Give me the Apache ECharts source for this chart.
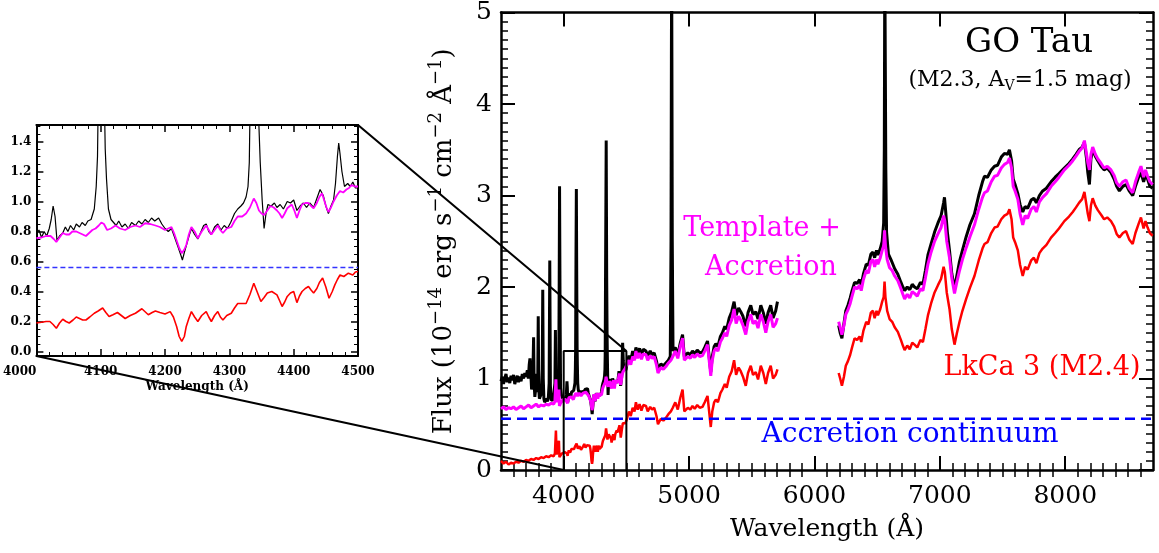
<!DOCTYPE html>
<html><head><meta charset="utf-8">
<script src="https://cdn.jsdelivr.net/npm/echarts@6/dist/echarts.min.js"></script>
<style>html,body{margin:0;padding:0;background:#fff}#c{width:1159px;height:553px}</style>
</head><body><div id="c"></div><script>
// ---------------- DATA ----------------
const xMajorTicks = [4000, 5000, 6000, 7000, 8000];
const insetYTicks = [0, 0.2, 0.4, 0.6, 0.8, 1.0, 1.2, 1.4];
const accretionLevel = 0.56;
const zoomWave = [4000, 4500];
const zoomBoxTop = 1.3;

// GO Tau observed spectrum (black)
const observedUV = [[3500,0.97],[3510,1.02],[3520,0.94],[3530,1.0],[3540,1.05],[3550,0.96],[3560,1.01],[3570,0.95],[3580,1.03],[3590,0.98],[3600,1.04],[3610,0.94],[3620,0.99],[3630,1.03],[3640,0.96],[3650,1.02],[3660,0.97],[3670,1.05],[3680,1.0],[3690,1.06],[3700,1.02],[3710,1.09],[3718,1.0],[3725,1.15],[3731,1.22],[3738,1.05],[3744,0.88],[3750,0.92],[3755,1.1],[3760,1.45],[3764,0.95],[3770,0.8],[3776,0.88],[3782,1.05],[3788,0.85],[3793,0.95],[3797,1.68],[3801,0.9],[3806,0.78],[3812,0.76],[3818,0.82],[3824,0.9],[3829,1.1],[3833,1.97],[3837,1.0],[3842,0.78],[3848,0.74],[3855,0.76],[3862,0.78],[3870,0.75],[3878,0.8],[3884,0.95],[3889,2.29],[3894,0.92],[3900,0.76],[3908,0.74],[3916,0.77],[3924,0.78],[3930,0.95],[3934,1.53],[3938,0.9],[3944,0.76],[3952,0.8],[3960,0.9],[3964,2.0],[3967,3.1],[3971,1.8],[3975,0.9],[3982,0.82],[3990,0.79],[3996,0.81]];
const observedZoom = [[4000,0.78],[4004,0.81],[4008,0.76],[4012,0.8],[4016,0.77],[4020,0.82],[4023,0.88],[4026,0.97],[4029,0.9],[4032,0.74],[4036,0.77],[4041,0.79],[4045,0.83],[4049,0.8],[4053,0.84],[4058,0.81],[4062,0.85],[4067,0.83],[4071,0.86],[4076,0.84],[4080,0.87],[4085,0.88],[4090,0.95],[4093,1.1],[4095,1.3],[4098,2.3],[4101,3.07],[4104,2.1],[4107,1.35],[4109,1.15],[4112,0.95],[4116,0.88],[4120,0.86],[4124,0.84],[4128,0.87],[4133,0.83],[4138,0.85],[4143,0.82],[4148,0.86],[4154,0.84],[4159,0.87],[4164,0.85],[4169,0.88],[4174,0.86],[4179,0.89],[4184,0.87],[4190,0.89],[4195,0.85],[4200,0.82],[4205,0.8],[4210,0.82],[4215,0.76],[4220,0.7],[4224,0.65],[4227,0.61],[4230,0.66],[4234,0.72],[4238,0.78],[4241,0.82],[4246,0.78],[4251,0.75],[4256,0.8],[4260,0.84],[4264,0.85],[4268,0.8],[4272,0.78],[4277,0.83],[4282,0.85],[4287,0.81],[4292,0.84],[4297,0.82],[4302,0.86],[4308,0.92],[4313,0.95],[4318,0.97],[4322,0.99],[4326,1.03],[4329,1.1],[4331,1.26],[4334,2.2],[4339,3.6],[4343,2.1],[4346,1.5],[4348,1.26],[4351,1.01],[4354,0.82],[4357,0.92],[4360,0.98],[4365,0.97],[4370,0.99],[4374,0.96],[4379,0.98],[4384,0.95],[4390,1.0],[4395,0.99],[4400,1.01],[4405,0.94],[4410,0.97],[4415,0.99],[4420,0.96],[4425,0.99],[4431,0.96],[4436,1.02],[4441,1.08],[4446,1.04],[4450,0.97],[4454,0.92],[4458,0.97],[4462,1.01],[4465,1.12],[4468,1.3],[4470,1.39],[4472,1.32],[4475,1.2],[4479,1.1],[4484,1.12],[4488,1.1],[4492,1.13],[4496,1.09],[4500,1.09]];
const observedGreen = [[4505,1.16],[4520,1.25],[4535,1.19],[4550,1.3],[4565,1.24],[4576,1.34],[4590,1.27],[4605,1.33],[4620,1.25],[4635,1.32],[4656,1.3],[4670,1.25],[4690,1.3],[4705,1.26],[4722,1.28],[4740,1.19],[4752,1.1],[4762,1.08],[4775,1.16],[4795,1.14],[4815,1.17],[4835,1.2],[4850,1.24],[4856,2.5],[4859,4.5],[4861,5.6],[4863,4.5],[4866,2.5],[4872,1.3],[4890,1.34],[4910,1.26],[4930,1.39],[4948,1.48],[4962,1.24],[4974,1.23],[4990,1.28],[5010,1.26],[5027,1.3],[5045,1.27],[5065,1.31],[5085,1.28],[5107,1.29],[5125,1.34],[5147,1.41],[5160,1.24],[5173,1.07],[5185,1.24],[5200,1.35],[5213,1.38],[5230,1.35],[5250,1.46],[5266,1.5],[5285,1.57],[5300,1.54],[5320,1.66],[5340,1.73],[5359,1.84],[5375,1.69],[5395,1.77],[5412,1.73],[5430,1.68],[5452,1.57],[5470,1.72],[5492,1.8],[5510,1.7],[5532,1.73],[5550,1.65],[5572,1.8],[5592,1.72],[5612,1.6],[5630,1.72],[5651,1.8],[5670,1.66],[5691,1.74],[5705,1.84]];
const observedRed = [[6193,1.58],[6205,1.5],[6219,1.44],[6235,1.6],[6250,1.74],[6267,1.8],[6285,1.88],[6300,1.96],[6320,2.05],[6340,2.04],[6360,2.08],[6373,2.02],[6390,2.14],[6413,2.25],[6430,2.24],[6450,2.36],[6466,2.38],[6480,2.32],[6495,2.4],[6506,2.35],[6525,2.42],[6540,2.5],[6552,2.7],[6557,3.5],[6561,5.6],[6565,5.6],[6569,3.3],[6575,2.6],[6590,2.36],[6610,2.3],[6640,2.2],[6665,2.14],[6690,2.05],[6705,2.0],[6719,1.96],[6740,2.0],[6760,1.97],[6780,2.03],[6798,2.0],[6820,1.98],[6845,2.05],[6865,2.03],[6885,2.18],[6905,2.35],[6930,2.47],[6958,2.6],[6985,2.7],[7010,2.78],[7030,2.92],[7037,2.98],[7045,2.85],[7060,2.6],[7077,2.4],[7095,2.15],[7117,1.98],[7135,2.12],[7157,2.28],[7180,2.4],[7210,2.55],[7240,2.68],[7276,2.8],[7310,3.0],[7340,3.15],[7356,3.21],[7380,3.2],[7410,3.28],[7436,3.32],[7460,3.33],[7490,3.42],[7515,3.46],[7540,3.45],[7555,3.5],[7572,3.38],[7585,3.18],[7600,3.12],[7622,3.02],[7640,2.9],[7661,2.82],[7680,2.88],[7700,2.86],[7728,2.95],[7750,2.97],[7770,2.92],[7794,3.0],[7820,3.05],[7850,3.08],[7887,3.15],[7920,3.2],[7950,3.24],[7993,3.3],[8030,3.35],[8060,3.4],[8086,3.45],[8110,3.5],[8135,3.53],[8153,3.58],[8170,3.4],[8180,3.25],[8193,3.12],[8205,3.4],[8219,3.5],[8240,3.43],[8260,3.38],[8286,3.32],[8310,3.28],[8335,3.3],[8365,3.25],[8390,3.18],[8410,3.1],[8432,3.05],[8460,3.1],[8485,3.12],[8510,3.05],[8538,3.0],[8560,3.1],[8585,3.2],[8604,3.25],[8625,3.15],[8640,3.22],[8657,3.18],[8675,3.1],[8697,3.08]];

// Template + Accretion (magenta)
const modelUV = [[3500,0.67],[3520,0.69],[3540,0.66],[3560,0.68],[3580,0.67],[3600,0.69],[3620,0.66],[3640,0.68],[3660,0.7],[3680,0.67],[3700,0.69],[3720,0.71],[3740,0.68],[3760,0.7],[3780,0.72],[3800,0.69],[3820,0.71],[3840,0.7],[3860,0.72],[3880,0.71],[3900,0.73],[3920,0.72],[3930,0.75],[3938,0.99],[3944,0.74],[3955,0.72],[3962,0.88],[3966,0.7],[3975,0.73],[3985,0.75],[3995,0.77]];
const modelZoom = [[4000,0.755],[4008,0.76],[4015,0.77],[4022,0.77],[4027,0.75],[4031,0.73],[4036,0.76],[4041,0.79],[4046,0.78],[4051,0.78],[4056,0.8],[4062,0.8],[4067,0.79],[4072,0.78],[4077,0.77],[4082,0.79],[4087,0.81],[4092,0.82],[4097,0.84],[4101,0.86],[4105,0.85],[4110,0.81],[4116,0.82],[4123,0.84],[4130,0.82],[4138,0.81],[4146,0.83],[4154,0.84],[4161,0.83],[4169,0.855],[4177,0.85],[4185,0.84],[4192,0.83],[4200,0.81],[4205,0.82],[4210,0.83],[4214,0.79],[4218,0.74],[4222,0.69],[4226,0.655],[4230,0.68],[4233,0.71],[4237,0.78],[4241,0.83],[4246,0.8],[4251,0.755],[4257,0.8],[4264,0.84],[4268,0.81],[4272,0.78],[4277,0.81],[4282,0.84],[4286,0.81],[4290,0.79],[4296,0.82],[4303,0.83],[4308,0.87],[4313,0.9],[4320,0.9],[4326,0.92],[4332,0.96],[4338,1.02],[4342,0.99],[4346,0.94],[4350,0.92],[4354,0.91],[4359,0.94],[4364,0.97],[4369,0.96],[4374,0.94],[4378,0.92],[4382,0.89],[4386,0.92],[4390,0.955],[4397,0.98],[4401,0.94],[4405,0.89],[4409,0.94],[4413,0.98],[4418,0.99],[4423,0.99],[4427,0.97],[4431,0.955],[4436,0.99],[4440,1.03],[4444,1.055],[4448,1.0],[4451,0.96],[4454,0.93],[4458,0.96],[4462,1.0],[4467,1.04],[4472,1.07],[4477,1.06],[4482,1.08],[4486,1.09],[4490,1.11],[4495,1.1],[4500,1.1]];
const modelGreen = [[4505,1.12],[4520,1.2],[4535,1.15],[4550,1.24],[4565,1.2],[4576,1.3],[4590,1.22],[4605,1.28],[4620,1.21],[4635,1.27],[4656,1.26],[4670,1.2],[4690,1.25],[4705,1.22],[4722,1.24],[4740,1.15],[4752,1.06],[4762,1.05],[4775,1.12],[4795,1.1],[4815,1.13],[4835,1.17],[4855,1.2],[4870,1.24],[4890,1.3],[4910,1.22],[4930,1.35],[4948,1.44],[4962,1.2],[4974,1.19],[4990,1.24],[5010,1.22],[5027,1.26],[5045,1.23],[5065,1.27],[5085,1.24],[5107,1.25],[5125,1.3],[5147,1.37],[5160,1.2],[5173,1.03],[5185,1.2],[5200,1.3],[5213,1.33],[5230,1.3],[5250,1.4],[5266,1.44],[5285,1.5],[5300,1.46],[5320,1.58],[5340,1.64],[5359,1.76],[5375,1.6],[5395,1.68],[5412,1.64],[5430,1.58],[5452,1.48],[5470,1.62],[5492,1.7],[5510,1.6],[5532,1.63],[5550,1.55],[5572,1.7],[5592,1.62],[5612,1.5],[5630,1.62],[5651,1.7],[5670,1.56],[5691,1.6],[5705,1.66]];
const modelRed = [[6193,1.62],[6205,1.56],[6219,1.48],[6235,1.58],[6250,1.7],[6267,1.75],[6285,1.82],[6300,1.9],[6320,2.0],[6340,1.98],[6360,2.02],[6373,1.96],[6390,2.08],[6413,2.18],[6430,2.15],[6450,2.28],[6466,2.3],[6480,2.22],[6495,2.3],[6506,2.25],[6525,2.32],[6540,2.4],[6552,2.45],[6559,2.62],[6566,2.45],[6580,2.3],[6599,2.21],[6620,2.18],[6640,2.12],[6665,2.07],[6690,1.98],[6705,1.92],[6719,1.87],[6740,1.92],[6760,1.88],[6780,1.95],[6798,1.93],[6820,1.9],[6845,1.98],[6865,1.96],[6885,2.1],[6905,2.25],[6930,2.38],[6958,2.5],[6985,2.58],[7010,2.65],[7030,2.78],[7040,2.72],[7055,2.5],[7077,2.32],[7095,2.1],[7117,1.93],[7135,2.05],[7157,2.18],[7180,2.3],[7210,2.43],[7240,2.55],[7276,2.68],[7310,2.85],[7340,2.98],[7356,3.03],[7380,3.05],[7410,3.15],[7436,3.21],[7460,3.22],[7490,3.3],[7515,3.34],[7540,3.36],[7555,3.41],[7572,3.3],[7585,3.1],[7600,3.05],[7622,2.96],[7640,2.8],[7661,2.68],[7680,2.78],[7700,2.75],[7728,2.85],[7750,2.88],[7770,2.82],[7794,2.93],[7820,2.98],[7850,3.02],[7887,3.1],[7920,3.15],[7950,3.2],[7993,3.28],[8030,3.33],[8060,3.38],[8086,3.43],[8110,3.48],[8135,3.52],[8153,3.6],[8170,3.45],[8180,3.36],[8193,3.28],[8205,3.45],[8219,3.53],[8240,3.45],[8260,3.4],[8286,3.35],[8310,3.3],[8335,3.32],[8365,3.28],[8390,3.22],[8410,3.14],[8432,3.1],[8460,3.15],[8485,3.17],[8510,3.08],[8538,3.03],[8560,3.15],[8585,3.25],[8604,3.32],[8625,3.2],[8640,3.28],[8657,3.21],[8675,3.15],[8697,3.12]];

// LkCa 3 template (red)
const templateUV = [[3500,0.1],[3520,0.07],[3540,0.09],[3560,0.06],[3580,0.08],[3600,0.07],[3620,0.09],[3640,0.08],[3660,0.1],[3680,0.09],[3700,0.11],[3720,0.1],[3740,0.12],[3760,0.11],[3780,0.13],[3800,0.12],[3820,0.14],[3840,0.13],[3860,0.15],[3880,0.14],[3900,0.16],[3920,0.15],[3930,0.18],[3938,0.43],[3944,0.17],[3955,0.16],[3962,0.32],[3966,0.14],[3975,0.16],[3985,0.18],[3995,0.19]];
const templateZoom = [[4000,0.19],[4008,0.195],[4015,0.2],[4021,0.2],[4026,0.18],[4031,0.155],[4036,0.19],[4041,0.215],[4046,0.2],[4051,0.19],[4057,0.21],[4062,0.23],[4067,0.22],[4072,0.21],[4077,0.21],[4083,0.23],[4090,0.255],[4096,0.27],[4103,0.29],[4108,0.26],[4113,0.233],[4119,0.245],[4126,0.26],[4132,0.24],[4138,0.22],[4146,0.24],[4154,0.255],[4159,0.27],[4164,0.285],[4169,0.265],[4174,0.245],[4180,0.26],[4185,0.27],[4192,0.26],[4200,0.25],[4208,0.266],[4213,0.23],[4218,0.167],[4222,0.1],[4226,0.067],[4230,0.1],[4233,0.167],[4237,0.22],[4241,0.266],[4246,0.23],[4251,0.2],[4257,0.24],[4264,0.266],[4268,0.23],[4272,0.2],[4277,0.24],[4282,0.266],[4286,0.23],[4290,0.21],[4296,0.24],[4303,0.255],[4308,0.29],[4313,0.32],[4320,0.32],[4326,0.32],[4332,0.38],[4338,0.455],[4343,0.4],[4349,0.333],[4354,0.36],[4359,0.39],[4366,0.4],[4374,0.378],[4378,0.34],[4382,0.3],[4386,0.33],[4390,0.367],[4395,0.39],[4400,0.4],[4405,0.326],[4409,0.37],[4413,0.4],[4418,0.42],[4423,0.433],[4427,0.41],[4431,0.39],[4436,0.42],[4440,0.46],[4445,0.49],[4450,0.43],[4455,0.355],[4460,0.4],[4464,0.444],[4468,0.48],[4472,0.51],[4478,0.5],[4485,0.522],[4492,0.51],[4496,0.53],[4500,0.533]];
const templateGreen = [[4505,0.56],[4520,0.64],[4535,0.59],[4550,0.68],[4565,0.64],[4576,0.74],[4590,0.66],[4605,0.72],[4620,0.65],[4635,0.71],[4656,0.7],[4670,0.64],[4690,0.69],[4705,0.66],[4722,0.68],[4740,0.59],[4752,0.5],[4762,0.49],[4775,0.56],[4795,0.54],[4815,0.57],[4835,0.61],[4855,0.64],[4870,0.68],[4890,0.74],[4910,0.66],[4930,0.79],[4948,0.88],[4962,0.64],[4974,0.63],[4990,0.68],[5010,0.66],[5027,0.7],[5045,0.67],[5065,0.71],[5085,0.68],[5107,0.69],[5125,0.74],[5147,0.81],[5160,0.64],[5173,0.47],[5185,0.64],[5200,0.74],[5213,0.77],[5230,0.74],[5250,0.84],[5266,0.88],[5285,0.94],[5300,0.9],[5320,1.02],[5340,1.08],[5359,1.2],[5375,1.04],[5395,1.12],[5412,1.08],[5430,1.02],[5452,0.92],[5470,1.06],[5492,1.14],[5510,1.04],[5532,1.07],[5550,0.99],[5572,1.14],[5592,1.06],[5612,0.94],[5630,1.06],[5651,1.14],[5670,1.0],[5691,1.04],[5705,1.1]];
const templateRed = [[6193,1.06],[6205,1.0],[6219,0.92],[6235,1.02],[6250,1.14],[6267,1.19],[6285,1.26],[6300,1.34],[6320,1.44],[6340,1.42],[6360,1.46],[6373,1.4],[6390,1.52],[6413,1.62],[6430,1.59],[6450,1.72],[6466,1.74],[6480,1.66],[6495,1.74],[6506,1.69],[6525,1.76],[6540,1.84],[6552,1.89],[6559,2.06],[6566,1.89],[6580,1.74],[6599,1.65],[6620,1.62],[6640,1.56],[6665,1.51],[6690,1.42],[6705,1.36],[6719,1.31],[6740,1.36],[6760,1.32],[6780,1.39],[6798,1.37],[6820,1.34],[6845,1.42],[6865,1.4],[6885,1.54],[6905,1.69],[6930,1.82],[6958,1.94],[6985,2.02],[7010,2.09],[7030,2.22],[7040,2.16],[7055,1.94],[7077,1.76],[7095,1.54],[7117,1.37],[7135,1.49],[7157,1.62],[7180,1.74],[7210,1.87],[7240,1.99],[7276,2.12],[7310,2.29],[7340,2.42],[7356,2.47],[7380,2.49],[7410,2.59],[7436,2.65],[7460,2.66],[7490,2.74],[7515,2.78],[7540,2.8],[7555,2.85],[7572,2.74],[7585,2.54],[7600,2.49],[7622,2.4],[7640,2.24],[7661,2.12],[7680,2.22],[7700,2.19],[7728,2.29],[7750,2.32],[7770,2.26],[7794,2.37],[7820,2.42],[7850,2.46],[7887,2.54],[7920,2.59],[7950,2.64],[7993,2.72],[8030,2.77],[8060,2.82],[8086,2.87],[8110,2.92],[8135,2.96],[8153,3.04],[8170,2.89],[8180,2.8],[8193,2.72],[8205,2.89],[8219,2.97],[8240,2.89],[8260,2.84],[8286,2.79],[8310,2.74],[8335,2.76],[8365,2.72],[8390,2.66],[8410,2.58],[8432,2.54],[8460,2.59],[8485,2.61],[8510,2.52],[8538,2.47],[8560,2.59],[8585,2.69],[8604,2.76],[8625,2.64],[8640,2.72],[8657,2.65],[8675,2.59],[8697,2.56]];

// ---------------- BUILD ----------------
const SERIF = 'DejaVu Serif';
const GAP = [5950, '-'];
const mainObserved = [...observedUV, ...observedZoom, ...observedGreen, GAP, ...observedRed];
const mainModel = [...modelUV, ...modelZoom, ...modelGreen, GAP, ...modelRed];
const mainTemplate = [...templateUV, ...templateZoom, ...templateGreen, GAP, ...templateRed];

const xMinorTicks = [];
for (let w = 3600; w < 8700; w += 100) if (w % 1000) xMinorTicks.push(w);
const insetYMinor = [];
for (let k = 1; k <= 30; k++) if (k % 4) insetYMinor.push(+(k * 0.05).toFixed(2));

const K = '#000';
const plain = v => String(v);
const mainLine = {show: true, onZero: false, lineStyle: {color: K, width: 2.5}};
const insetLine = {show: true, onZero: false, lineStyle: {color: K, width: 2}};
const noLabel = {show: false};
const noSplit = {show: false};

const chart = echarts.init(document.getElementById('c'), null, {renderer: 'canvas'});

const option = {
  animation: false,
  backgroundColor: '#fff',
  grid: [
    {left: 501, top: 7, width: 652, height: 463, containLabel: false},
    {left: 33, top: 125, width: 325, height: 231, containLabel: false}
  ],
  xAxis: [
    {gridIndex: 0, type: 'value', position: 'bottom', min: 3500, max: 8700,
      axisLine: mainLine,
      axisTick: {show: true, inside: true, length: 14, customValues: xMajorTicks, lineStyle: {color: K, width: 2}},
      axisLabel: {show: true, customValues: xMajorTicks, formatter: plain, margin: 14, fontFamily: SERIF, fontSize: 25, color: K},
      splitLine: noSplit,
      name: 'Wavelength (Å)', nameLocation: 'middle', nameGap: 47,
      nameTextStyle: {fontFamily: SERIF, fontSize: 25, color: K}},
    {gridIndex: 0, type: 'value', position: 'top', min: 3500, max: 8700,
      axisLine: mainLine,
      axisTick: {show: true, inside: true, length: 14, customValues: xMajorTicks, lineStyle: {color: K, width: 2}},
      axisLabel: noLabel, splitLine: noSplit},
    {gridIndex: 0, type: 'value', position: 'bottom', min: 3500, max: 8700,
      axisLine: {show: false},
      axisTick: {show: true, inside: true, length: 7, customValues: xMinorTicks, lineStyle: {color: K, width: 1.5}},
      axisLabel: noLabel, splitLine: noSplit},
    {gridIndex: 0, type: 'value', position: 'top', min: 3500, max: 8700,
      axisLine: {show: false},
      axisTick: {show: true, inside: true, length: 7, customValues: xMinorTicks, lineStyle: {color: K, width: 1.5}},
      axisLabel: noLabel, splitLine: noSplit},
    {gridIndex: 1, type: 'value', position: 'bottom', min: zoomWave[0], max: zoomWave[1], interval: 100,
      axisLine: insetLine,
      axisTick: {show: true, inside: true, length: 7, lineStyle: {color: K, width: 1.5}},
      minorTick: {show: true, splitNumber: 5, length: 4, lineStyle: {color: K, width: 1}},
      axisLabel: {show: true, formatter: plain, margin: 10, fontFamily: SERIF, fontWeight: 'bold', fontSize: 12, color: K, alignMinLabel: 'right'},
      splitLine: noSplit, minorSplitLine: noSplit,
      name: 'Wavelength (Å)', nameLocation: 'middle', nameGap: 25,
      nameTextStyle: {fontFamily: SERIF, fontWeight: 'bold', fontSize: 12, color: K}},
    {gridIndex: 1, type: 'value', position: 'top', min: zoomWave[0], max: zoomWave[1], interval: 100,
      axisLine: insetLine,
      axisTick: {show: true, inside: true, length: 7, lineStyle: {color: K, width: 1.5}},
      minorTick: {show: true, splitNumber: 5, length: 4, lineStyle: {color: K, width: 1}},
      axisLabel: noLabel, splitLine: noSplit, minorSplitLine: noSplit}
  ],
  yAxis: [
    {gridIndex: 0, type: 'value', position: 'left', min: 0, max: 5, interval: 1,
      axisLine: mainLine,
      axisTick: {show: true, inside: true, length: 14, lineStyle: {color: K, width: 2}},
      minorTick: {show: true, splitNumber: 10, length: 7, lineStyle: {color: K, width: 1.5}},
      axisLabel: {show: true, margin: 9, fontFamily: SERIF, fontSize: 25, color: K},
      splitLine: noSplit, minorSplitLine: noSplit,
      name: '{a|Flux (10}{b|−14}{a| erg s}{b|−1}{a| cm}{b|−2}{a| Å}{b|−1}{a|)}',
      nameLocation: 'middle', nameGap: 40, nameRotate: 90,
      nameTextStyle: {rich: {
        a: {fontFamily: SERIF, fontSize: 26, color: K, lineHeight: 34},
        b: {fontFamily: SERIF, fontSize: 18, color: K, lineHeight: 18, verticalAlign: 'top'}
      }}},
    {gridIndex: 0, type: 'value', position: 'right', min: 0, max: 5, interval: 1,
      axisLine: mainLine,
      axisTick: {show: true, inside: true, length: 14, lineStyle: {color: K, width: 2}},
      minorTick: {show: true, splitNumber: 10, length: 7, lineStyle: {color: K, width: 1.5}},
      axisLabel: noLabel, splitLine: noSplit, minorSplitLine: noSplit},
    {gridIndex: 1, type: 'value', position: 'left', min: -0.03, max: 1.51,
      axisLine: insetLine,
      axisTick: {show: true, inside: true, length: 7, customValues: insetYTicks, lineStyle: {color: K, width: 1.5}},
      axisLabel: {show: true, customValues: insetYTicks, margin: 5, fontFamily: SERIF, fontWeight: 'bold', fontSize: 12, color: K,
        formatter: v => v.toFixed(1)},
      splitLine: noSplit},
    {gridIndex: 1, type: 'value', position: 'right', min: -0.03, max: 1.51,
      axisLine: insetLine,
      axisTick: {show: true, inside: true, length: 7, customValues: insetYTicks, lineStyle: {color: K, width: 1.5}},
      axisLabel: noLabel, splitLine: noSplit},
    {gridIndex: 1, type: 'value', position: 'left', min: -0.03, max: 1.51,
      axisLine: {show: false},
      axisTick: {show: true, inside: true, length: 4, customValues: insetYMinor, lineStyle: {color: K, width: 1}},
      axisLabel: noLabel, splitLine: noSplit},
    {gridIndex: 1, type: 'value', position: 'right', min: -0.03, max: 1.51,
      axisLine: {show: false},
      axisTick: {show: true, inside: true, length: 4, customValues: insetYMinor, lineStyle: {color: K, width: 1}},
      axisLabel: noLabel, splitLine: noSplit}
  ],
  series: [
    {type: 'line', name: 'GO Tau', xAxisIndex: 0, yAxisIndex: 0, data: mainObserved, showSymbol: false, symbol: 'none',
      lineStyle: {color: '#000', width: 3}, clip: true, z: 2},
    {type: 'line', name: 'Template + Accretion', xAxisIndex: 0, yAxisIndex: 0, data: mainModel, showSymbol: false, symbol: 'none',
      lineStyle: {color: '#ff00ff', width: 3}, clip: true, z: 3},
    {type: 'line', name: 'LkCa 3 (M2.4)', xAxisIndex: 0, yAxisIndex: 0, data: mainTemplate, showSymbol: false, symbol: 'none',
      lineStyle: {color: '#ff0000', width: 2.5}, clip: true, z: 3},
    {type: 'line', name: 'Accretion continuum', xAxisIndex: 0, yAxisIndex: 0,
      data: [[3500, accretionLevel], [8700, accretionLevel]], showSymbol: false, symbol: 'none',
      lineStyle: {color: '#0000ff', width: 2.5, type: [10, 6]}, clip: true, z: 4},
    {type: 'line', name: 'zoom box', xAxisIndex: 0, yAxisIndex: 0,
      data: [[zoomWave[0], 0], [zoomWave[0], zoomBoxTop], [zoomWave[1], zoomBoxTop], [zoomWave[1], 0]],
      showSymbol: false, symbol: 'none', lineStyle: {color: '#000', width: 2}, clip: false, z: 5},
    {type: 'line', name: 'GO Tau (zoom)', xAxisIndex: 4, yAxisIndex: 2, data: observedZoom, showSymbol: false, symbol: 'none',
      lineStyle: {color: '#000', width: 1.2}, clip: true, z: 2},
    {type: 'line', name: 'Template + Accretion (zoom)', xAxisIndex: 4, yAxisIndex: 2, data: modelZoom, showSymbol: false, symbol: 'none',
      lineStyle: {color: '#ff00ff', width: 1.8}, clip: true, z: 3},
    {type: 'line', name: 'LkCa 3 (zoom)', xAxisIndex: 4, yAxisIndex: 2, data: templateZoom, showSymbol: false, symbol: 'none',
      lineStyle: {color: '#ff0000', width: 1.6}, clip: true, z: 3},
    {type: 'line', name: 'Accretion continuum (zoom)', xAxisIndex: 4, yAxisIndex: 2,
      data: [[zoomWave[0], accretionLevel], [zoomWave[1], accretionLevel]], showSymbol: false, symbol: 'none',
      lineStyle: {color: '#3333ff', width: 1.3, type: [5, 3]}, clip: true, z: 4}
  ]
};
chart.setOption(option);

const pInsetTR = chart.convertToPixel({xAxisIndex: 4, yAxisIndex: 2}, [zoomWave[1], 1.51]);
const pInsetBL = chart.convertToPixel({xAxisIndex: 4, yAxisIndex: 2}, [zoomWave[0], -0.03]);
const pBoxTR = chart.convertToPixel({xAxisIndex: 0, yAxisIndex: 0}, [zoomWave[1], zoomBoxTop]);
const pBoxBL = chart.convertToPixel({xAxisIndex: 0, yAxisIndex: 0}, [zoomWave[0], 0]);

function txt(x, y, text, size, color, extra) {
  return Object.assign({type: 'text', x: x, y: y, z: 50,
    style: Object.assign({text: text, fontFamily: SERIF, fontSize: size, fill: color,
      align: 'center', verticalAlign: 'middle', textAlign: 'center', textVerticalAlign: 'middle'}, extra || {})});
}

chart.setOption({
  graphic: [
    {type: 'line', z: 40, shape: {x1: pInsetTR[0], y1: pInsetTR[1], x2: pBoxTR[0], y2: pBoxTR[1]},
      style: {stroke: '#000', lineWidth: 2}},
    {type: 'line', z: 40, shape: {x1: pInsetBL[0], y1: pInsetBL[1], x2: pBoxBL[0], y2: pBoxBL[1]},
      style: {stroke: '#000', lineWidth: 2}},
    txt(1029, 43, 'GO Tau', 34, '#000'),
    txt(1020, 80, '{n|(M2.3, A}{s|V}{n|=1.5 mag)}', 22, '#000', {rich: {
      n: {fontFamily: SERIF, fontSize: 22, fill: '#000', lineHeight: 26},
      s: {fontFamily: SERIF, fontSize: 14, fill: '#000', lineHeight: 14, verticalAlign: 'bottom'}
    }}),
    txt(762, 229, 'Template +', 27, '#ff00ff'),
    txt(771, 268, 'Accretion', 27, '#ff00ff'),
    txt(1042, 368, 'LkCa 3 (M2.4)', 27, '#ff0000'),
    txt(910, 435, 'Accretion continuum', 28, '#0000ff')
  ]
});
</script></body></html>
